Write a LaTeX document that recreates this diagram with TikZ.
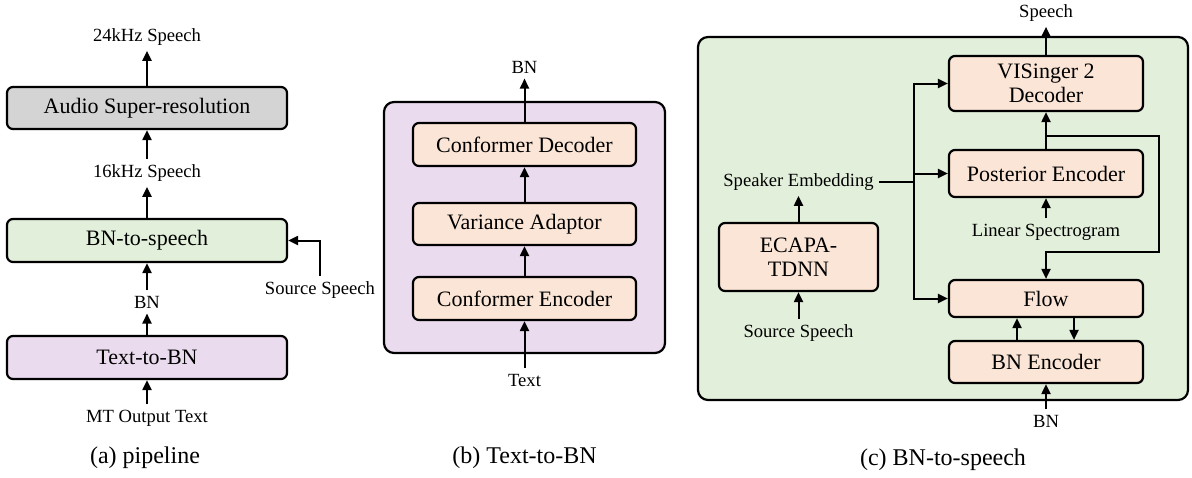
\documentclass[tikz,border=0pt]{standalone}
\usepackage{fontspec}
\setmainfont{Liberation Serif}
\usetikzlibrary{arrows.meta}
\definecolor{greyfill}{HTML}{D4D4D4}
\definecolor{greenfill}{HTML}{E2EFDA}
\definecolor{purplefill}{HTML}{EBDBEF}
\definecolor{peachfill}{HTML}{FBE5D6}
\tikzset{
    blk/.style={draw, line width=1.1pt, rounded corners=3pt, font=\fontsize{11}{12}\selectfont, align=center, inner sep=0pt},
    panel/.style={draw, line width=1.1pt, rounded corners=5pt, inner sep=0pt},
    lbl/.style={font=\fontsize{9.3}{10}\selectfont, inner sep=2.5pt},
    captxt/.style={font=\fontsize{12}{13}\selectfont, inner sep=0pt},
    arr/.style={line width=1pt, -{Triangle[length=5pt,width=4.5pt]}},
    ln/.style={line width=1pt}
}
\begin{document}
\begin{tikzpicture}[x=0.5pt,y=-0.5pt]
                \useasboundingbox (0,0) rectangle (1192,477);

                \node[blk, fill=greyfill, minimum width=140pt, minimum height=21pt] (asr) at (147,108) {Audio Super-resolution};
                \node[blk, fill=greenfill, minimum width=140pt, minimum height=21.5pt] (bn2s) at (147,240.5) {BN-to-speech};
                \node[blk, fill=purplefill, minimum width=140pt, minimum height=21.5pt] (t2bn) at (147,357.5) {Text-to-BN};
                \node[lbl] (s24) at (147,37) {24kHz Speech};
                \node[lbl] (s16) at (147,173) {16kHz Speech};
                \node[lbl] (bna) at (147,302) {BN};
                \node[lbl] (mt) at (147,418) {MT Output Text};
                \node[lbl] (srca) at (320,290) {Source Speech};
                \draw[arr] (asr.north) -- (s24.south);
                \draw[arr] (s16.north) -- (asr.south);
                \draw[arr] (bn2s.north) -- (s16.south);
                \draw[arr] (bna.north) -- (bn2s.south);
                \draw[arr] (t2bn.north) -- (bna.south);
                \draw[arr] (mt.north) -- (t2bn.south);
                \draw[arr] (srca.north) |- (bn2s.east);
                \node[captxt] (capa) at (145,458) {(a) pipeline};

                \node[panel, fill=purplefill, minimum width=140.5pt, minimum height=125.5pt] (tbox) at (524.5,227.5) {};
                \node[blk, fill=peachfill, minimum width=111.5pt, minimum height=21.5pt] (cdec) at (524.5,144.5) {Conformer Decoder};
                \node[blk, fill=peachfill, minimum width=111.5pt, minimum height=21pt] (vada) at (524.5,224) {Variance Adaptor};
                \node[blk, fill=peachfill, minimum width=111.5pt, minimum height=21.5pt] (cenc) at (524.5,298.5) {Conformer Encoder};
                \node[lbl] (bnb) at (524.5,67) {BN};
                \node[lbl] (txt) at (524.5,380) {Text};
                \draw[arr] (cdec.north) -- (bnb.south);
                \draw[arr] (vada.north) -- (cdec.south);
                \draw[arr] (cenc.north) -- (vada.south);
                \draw[arr] (txt.north) -- (cenc.south);
                \node[captxt] (capb) at (524.5,458) {(b) Text-to-BN};

                \node[panel, fill=greenfill, minimum width=245pt, minimum height=181.5pt] (sbox) at (943,218.5) {};
                \node[blk, fill=peachfill, minimum width=97pt, minimum height=27.5pt] (vdec) at (1046,83.5) {VISinger 2\\Decoder};
                \node[blk, fill=peachfill, minimum width=97pt, minimum height=23.5pt] (post) at (1046,173.5) {Posterior Encoder};
                \node[blk, fill=peachfill, minimum width=97pt, minimum height=18.5pt] (flow) at (1046,298.5) {Flow};
                \node[blk, fill=peachfill, minimum width=97pt, minimum height=21pt] (bnenc) at (1046,362) {BN Encoder};
                \node[blk, fill=peachfill, minimum width=79.5pt, minimum height=34pt] (ecapa) at (798.5,257) {ECAPA-\\TDNN};
                \node[lbl] (spc) at (1046,13) {Speech};
                \node[lbl] (lin) at (1046,232) {Linear Spectrogram};
                \node[lbl] (bnc) at (1046,421) {BN};
                \node[lbl] (spk) at (798.5,182) {Speaker Embedding};
                \node[lbl] (srcc) at (798.5,333) {Source Speech};
                \coordinate (bus) at (914,182);
                \coordinate (tap) at (1046,136);
                \coordinate (loop) at (1159,252);
                \draw[arr] (vdec.north) -- (spc.south);
                \draw[arr] (post.north) -- (vdec.south);
                \draw[arr] (lin.north) -- (post.south);
                \draw[arr] (bnc.north) -- (bnenc.south);
                \draw[arr] (srcc.north) -- (ecapa.south);
                \draw[arr] (ecapa.north) -- (spk.south);
                \draw[ln] (spk.east) -- (bus);
                \draw[arr] (bus) |- (vdec.west);
                \draw[arr] (bus) |- (post.west);
                \draw[arr] (bus) |- (flow.west);
                \draw[arr] (tap) -| (loop) -| (flow.north);
                \draw[arr] ([xshift=-14.5pt]bnenc.north) -- ([xshift=-14.5pt]flow.south);
                \draw[arr] ([xshift=14pt]flow.south) -- ([xshift=14pt]bnenc.north);
                \node[captxt] (capc) at (943,460) {(c) BN-to-speech};
            \end{tikzpicture}
\end{document}
